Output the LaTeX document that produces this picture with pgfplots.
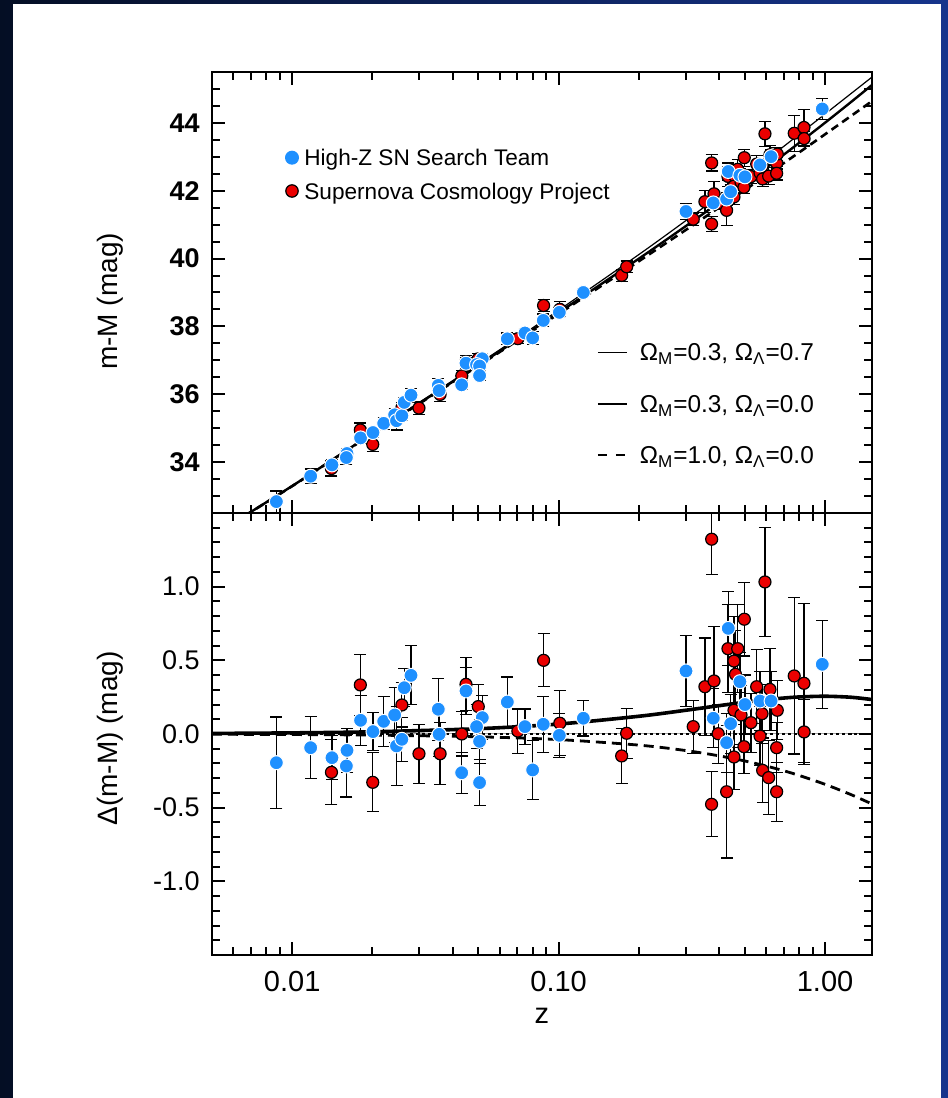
\documentclass[border=0pt]{standalone}
\usepackage{fontspec}
\setmainfont{Liberation Sans}
\usepackage{pgfplots}
\usepackage{pgfplotstable}
\pgfplotsset{compat=1.18}
\definecolor{bluec}{RGB}{30,144,255}
\definecolor{redc}{RGB}{235,0,0}
\definecolor{navyL}{RGB}{4,14,36}
\definecolor{navyR}{RGB}{22,52,140}

\pgfplotstableread{
z mu d err
0.00872 32.836 -0.195 0.31
0.01173 33.584 -0.093 0.21
0.01410 33.918 -0.161 0.15
0.01606 34.253 -0.111 0.15
0.01597 34.134 -0.217 0.21
0.01806 34.713 0.093 0.17
0.02010 34.871 0.016 0.13
0.02205 35.143 0.086 0.17
0.02424 35.394 0.129 0.185
0.02463 35.219 -0.081 0.27
0.0258 35.366 -0.036 0.15
0.02634 35.761 0.314 0.13
0.02792 35.973 0.398 0.2
0.03535 36.263 0.168 0.21
0.0356 36.108 -0.002 0.15
0.04326 36.277 -0.263 0.14
0.0449 36.915 0.292 0.16
0.0517 37.046 0.111 0.15
0.0492 36.875 0.05 0.15
0.0505 36.833 -0.05 0.15
0.0505 36.553 -0.33 0.155
0.06418 37.633 0.217 0.17
0.07474 37.806 0.05 0.12
0.0799 37.661 -0.244 0.2
0.08757 38.177 0.066 0.19
0.1006 38.414 -0.009 0.15
0.1238 39.000 0.107 0.12
0.3006 41.389 0.428 0.24
0.3805 41.640 0.107 0.2
0.427 41.755 -0.059 0.2
0.4331 42.567 0.717 0.25
0.4421 41.970 0.07 0.2
0.479 42.455 0.355 0.2
0.5003 42.409 0.2 0.2
0.5696 42.760 0.224 0.2
0.627 43.005 0.224 0.2
0.976 44.41 0.473 0.3
}\bluedata

\pgfplotstableread{
z mu d err
0.01404 33.810 -0.26 0.22
0.01802 34.948 0.333 0.205
0.02006 34.522 -0.328 0.2
0.0258 35.599 0.197 0.15
0.02991 35.593 -0.134 0.2
0.0359 35.995 -0.134 0.21
0.0433 36.542 0.0 0.15
0.04491 36.960 0.337 0.18
0.04994 37.044 0.186 0.15
0.0703 37.639 0.02 0.15
0.0878 38.617 0.50 0.18
0.101 38.504 0.073 0.22
0.1724 39.503 -0.149 0.186
0.180 39.758 0.005 0.17
0.320 41.161 0.05 0.18
0.354 41.677 0.321 0.33
0.3753 42.819 1.322 0.24
0.375 41.019 -0.477 0.22
0.383 41.909 0.36 0.37
0.397 41.637 0.002 0.2
0.427 41.422 -0.392 0.45
0.432 42.422 0.579 0.3
0.455 42.467 0.495 0.3
0.461 42.409 0.405 0.3
0.455 42.133 0.161 0.25
0.455 41.816 -0.156 0.22
0.470 42.632 0.579 0.3
0.4836 42.253 0.129 0.2
0.496 42.101 -0.086 0.18
0.4975 42.974 0.779 0.25
0.527 42.416 0.077 0.2
0.5537 42.785 0.321 0.25
0.570 42.524 -0.014 0.2
0.58 42.720 0.138 0.2
0.583 42.348 -0.247 0.22
0.5948 43.678 1.032 0.37
0.614 42.431 -0.296 0.25
0.621 43.060 0.303 0.28
0.658 42.813 -0.093 0.17
0.658 42.514 -0.392 0.2
0.6616 43.081 0.161 0.2
0.766 43.693 0.394 0.53
0.833 43.864 0.344 0.54
0.834 43.537 0.014 0.22
}\reddata

\pgfplotstableread{
z L O E
0.005 31.823 31.820 31.818
0.01 33.303 33.296 33.292
0.02 34.859 34.844 34.836
0.05 36.896 36.860 36.841
0.1 38.477 38.409 38.371
0.2 40.118 39.997 39.922
0.3 41.117 40.956 40.843
0.4 41.846 41.654 41.505
0.5 42.423 42.207 42.024
0.6 42.900 42.668 42.451
0.7 43.308 43.064 42.815
0.8 43.664 43.413 43.131
1.0 44.262 44.005 43.664
1.25 44.861 44.612 44.201
1.5 45.350 45.117 44.641
}\models

\pgfplotstableread{
z L O E
0.005 0.0038 0 -0.0019
0.01 0.0076 0 -0.0038
0.02 0.0150 0 -0.0076
0.05 0.036 0 -0.019
0.1 0.0675 0 -0.0380
0.2 0.1203 0 -0.0755
0.3 0.1611 0 -0.1123
0.4 0.1923 0 -0.1483
0.5 0.2156 0 -0.1832
0.6 0.2325 0 -0.2170
0.7 0.2441 0 -0.2497
0.8 0.2514 0 -0.2814
1.0 0.2562 0 -0.3416
1.25 0.2494 0 -0.4112
1.5 0.2338 0 -0.4752
}\resid

\begin{document}
\begin{tikzpicture}
\shade[left color=navyL, right color=navyR] (0,0) rectangle (474pt,549pt);
\fill[white] (6.5pt,0) rectangle (470.5pt,547pt);

% ---------------- top panel ----------------
\begin{axis}[
  scale only axis, width=330pt, height=220.5pt,
  at={(106pt,292.5pt)}, anchor=south west,
  xmode=log, xmin=0.005, xmax=1.5,
  ymin=32.5, ymax=45.5,
  axis line style={line width=1pt},
  tick align=inside,
  major tick length=6.5pt, minor tick length=4pt,
  tick style={line width=1pt, black},
  xtick={0.01,0.1,1},
  minor xtick={0.005,0.006,0.007,0.008,0.009,0.02,0.03,0.04,0.05,0.06,0.07,0.08,0.09,0.2,0.3,0.4,0.5,0.6,0.7,0.8,0.9},
  xticklabels={,,},
  ytick={34,36,38,40,42,44},
  yticklabels={\textbf{34},\textbf{36},\textbf{38},\textbf{40},\textbf{42},\textbf{44}},
  minor ytick={33,33.5,34.5,35,35.5,36.5,37,37.5,38.5,39,39.5,40.5,41,41.5,42.5,43,43.5,44.5,45},
  yticklabel style={font=\fontsize{13.5}{15}\selectfont, anchor=east, inner sep=0pt, xshift=-6pt},
  ylabel={m-M (mag)},
  ylabel style={font=\fontsize{14}{17}\selectfont, at={(axis description cs:-0.1545,0.48)}, anchor=center},
]
\addplot[black, line width=0.6pt, smooth] table[x=z, y=L] {\models};
\addplot[black, line width=1.2pt, smooth] table[x=z, y=O] {\models};
\addplot[black, line width=1.3pt, smooth, dash pattern=on 4pt off 2.5pt] table[x=z, y=E] {\models};
\addplot[only marks, mark=*, mark size=3pt, mark options={fill=redc, draw=black, line width=0.6pt},
  error bars/.cd, y dir=both, y explicit,
  error bar style={line width=0.6pt, black},
  error mark options={black, line width=0.6pt, mark size=3pt, rotate=90}]
  table[x=z, y=mu, y error=err] {\reddata};
\addplot[only marks, mark=*, mark size=3.5pt, mark options={fill=bluec, draw=white, line width=0.5pt},
  error bars/.cd, y dir=both, y explicit,
  error bar style={line width=0.6pt, black},
  error mark options={black, line width=0.6pt, mark size=3pt, rotate=90}]
  table[x=z, y=mu, y error=err] {\bluedata};
\end{axis}

% ---------------- bottom panel ----------------
\begin{axis}[
  scale only axis, width=330pt, height=221pt,
  at={(106pt,71.5pt)}, anchor=south west,
  xmode=log, xmin=0.005, xmax=1.5,
  ymin=-1.5, ymax=1.5,
  axis line style={line width=1pt},
  tick align=inside,
  major tick length=6.5pt, minor tick length=4pt,
  tick style={line width=1pt, black},
  xtick={0.01,0.1,1},
  minor xtick={0.005,0.006,0.007,0.008,0.009,0.02,0.03,0.04,0.05,0.06,0.07,0.08,0.09,0.2,0.3,0.4,0.5,0.6,0.7,0.8,0.9},
  xticklabels={0.01,0.10,1.00},
  xticklabel style={font=\fontsize{14.5}{16}\selectfont, anchor=center, yshift=-13.5pt},
  ytick={-1,-0.5,0,0.5,1},
  yticklabels={-1.0,-0.5,0.0,0.5,1.0},
  minor ytick={-1.4,-1.3,-1.2,-1.1,-0.9,-0.8,-0.7,-0.6,-0.4,-0.3,-0.2,-0.1,0.1,0.2,0.3,0.4,0.6,0.7,0.8,0.9,1.1,1.2,1.3,1.4},
  yticklabel style={font=\fontsize{13.5}{15}\selectfont, anchor=east, inner sep=0pt, xshift=-6pt},
  xlabel={z},
  xlabel style={font=\fontsize{14.5}{17}\selectfont, at={(axis description cs:0.5,-0.1369)}, anchor=center},
  ylabel={Δ(m-M) (mag)},
  ylabel style={font=\fontsize{14}{17}\selectfont, at={(axis description cs:-0.1545,0.49)}, anchor=center},
]
\addplot[black, line width=0.5pt] table[x=z, y=O] {\resid};
\addplot[black, line width=1.1pt, dash pattern=on 1.5pt off 1.5pt] table[x=z, y=O] {\resid};
\addplot[black, line width=1.8pt, smooth] table[x=z, y=L] {\resid};
\addplot[black, line width=1.4pt, smooth, dash pattern=on 5pt off 3pt] table[x=z, y=E] {\resid};
\addplot[only marks, mark=*, mark size=3pt, mark options={fill=redc, draw=black, line width=0.6pt},
  error bars/.cd, y dir=both, y explicit,
  error bar style={line width=0.6pt, black},
  error mark options={black, line width=0.6pt, mark size=3pt, rotate=90}]
  table[x=z, y=d, y error=err] {\reddata};
\addplot[only marks, mark=*, mark size=3.5pt, mark options={fill=bluec, draw=white, line width=0.5pt},
  error bars/.cd, y dir=both, y explicit,
  error bar style={line width=0.6pt, black},
  error mark options={black, line width=0.6pt, mark size=3pt, rotate=90}]
  table[x=z, y=d, y error=err] {\bluedata};
\end{axis}

% ---------------- legends ----------------
\node[circle, inner sep=0pt, minimum size=7pt, fill=bluec] at (146pt,470.15pt) {};
\node[anchor=base west, inner sep=0pt, font=\fontsize{11.3}{13}\selectfont] at (152pt,466.1pt) {High-Z SN Search Team};
\node[circle, inner sep=0pt, minimum size=6.2pt, fill=redc, draw=black, line width=0.6pt] at (146pt,453.5pt) {};
\node[anchor=base west, inner sep=0pt, font=\fontsize{11.3}{13}\selectfont] at (152pt,449.45pt) {Supernova Cosmology Project};

\draw[black, line width=0.6pt] (298.9pt,372.9pt) -- (313.7pt,372.9pt);
\node[anchor=base west, inner sep=0pt, font=\fontsize{12.2}{14}\selectfont] at (319.7pt,368.5pt) {Ω\textsubscript{M}=0.3, Ω\textsubscript{Λ}=0.7};
\draw[black, line width=1.3pt] (298.9pt,346.9pt) -- (313.7pt,346.9pt);
\node[anchor=base west, inner sep=0pt, font=\fontsize{12.2}{14}\selectfont] at (319.7pt,342.5pt) {Ω\textsubscript{M}=0.3, Ω\textsubscript{Λ}=0.0};
\draw[black, line width=1.3pt, dash pattern=on 4.5pt off 4.5pt] (298.9pt,321.5pt) -- (312.5pt,321.5pt);
\node[anchor=base west, inner sep=0pt, font=\fontsize{12.2}{14}\selectfont] at (319.7pt,317.1pt) {Ω\textsubscript{M}=1.0, Ω\textsubscript{Λ}=0.0};

\pgfresetboundingbox
\path[use as bounding box] (0,0) rectangle (474pt,549pt);
\end{tikzpicture}
\end{document}
